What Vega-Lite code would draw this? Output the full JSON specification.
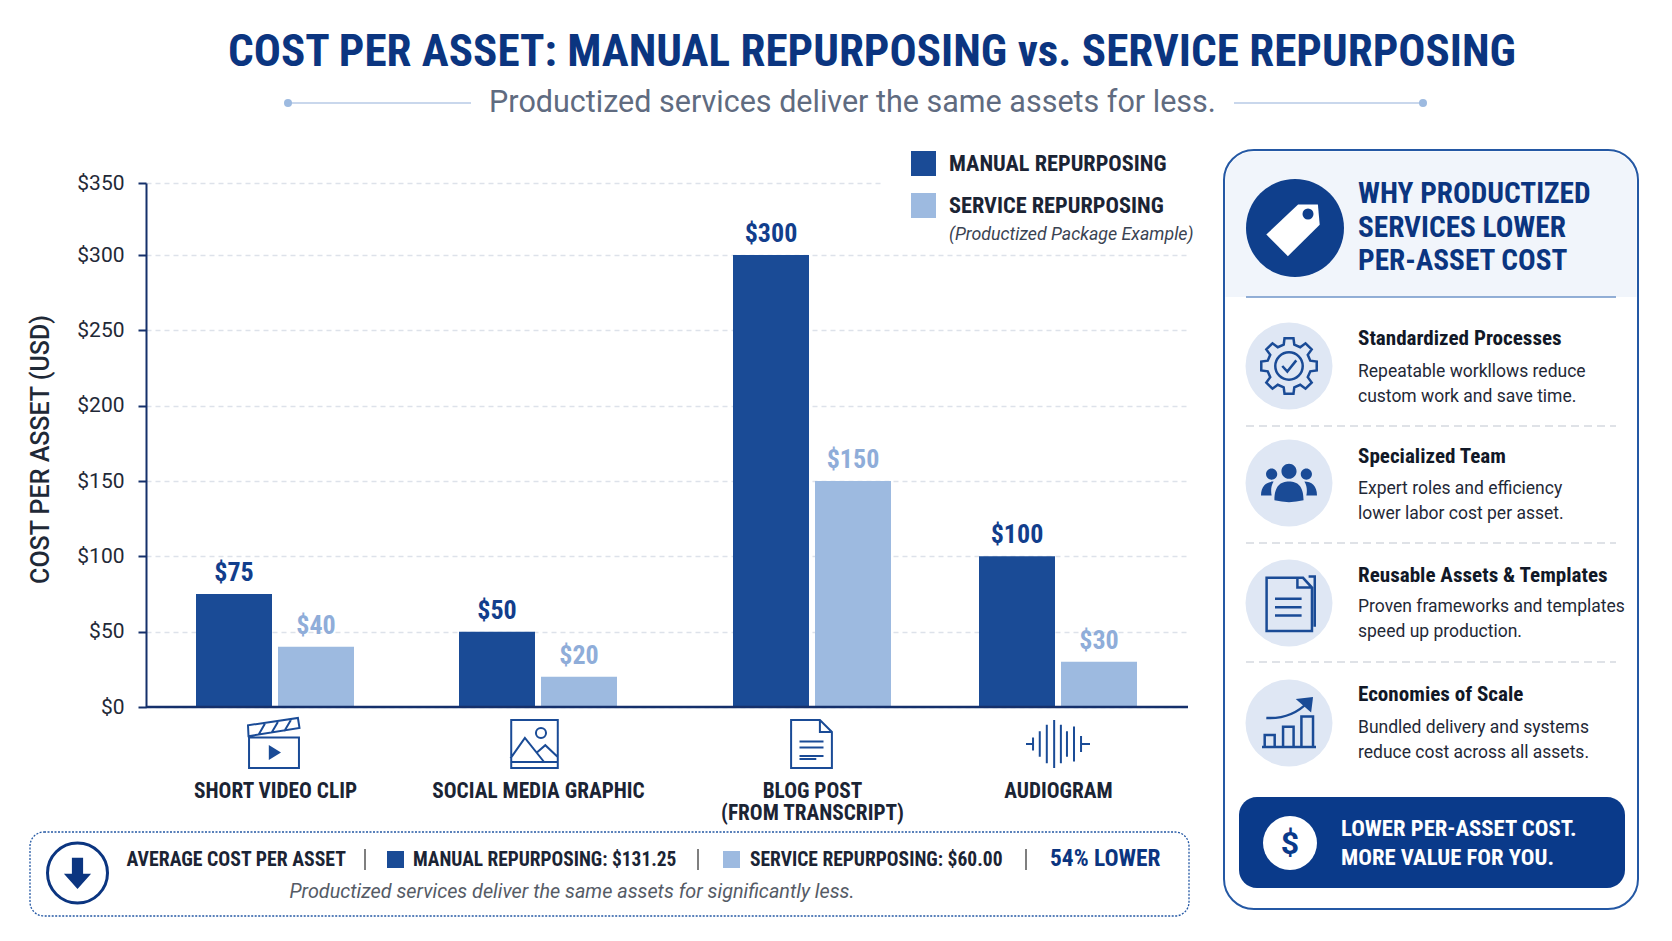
{"$schema":"https://vega.github.io/schema/vega-lite/v6.json","width":1042,"height":524,"autosize":"none","padding":{"left":146,"top":183,"right":484,"bottom":234},"background":"#ffffff","datasets":{"one":[{}],"bars":[{"asset":"SHORT VIDEO CLIP","order":1,"series":"MANUAL REPURPOSING","cost":75},{"asset":"SHORT VIDEO CLIP","order":1,"series":"SERVICE REPURPOSING","cost":40},{"asset":"SOCIAL MEDIA GRAPHIC","order":2,"series":"MANUAL REPURPOSING","cost":50},{"asset":"SOCIAL MEDIA GRAPHIC","order":2,"series":"SERVICE REPURPOSING","cost":20},{"asset":"BLOG POST (FROM TRANSCRIPT)","order":3,"series":"MANUAL REPURPOSING","cost":300},{"asset":"BLOG POST (FROM TRANSCRIPT)","order":3,"series":"SERVICE REPURPOSING","cost":150},{"asset":"AUDIOGRAM","order":4,"series":"MANUAL REPURPOSING","cost":100},{"asset":"AUDIOGRAM","order":4,"series":"SERVICE REPURPOSING","cost":30}]},"config":{"view":{"stroke":null},"text":{"font":"Roboto Condensed","align":"left","baseline":"alphabetic"}},"layer":[
{"data":{"name":"bars"},"transform":[{"filter":"datum.series === 'MANUAL REPURPOSING'"}],"mark":{"type":"bar","orient":"vertical","width":76,"xOffset":-41},"encoding":{"x":{"field":"order","type":"quantitative","scale":{"domain":[0,1,2,3,4,5],"range":[0,129,392,666,912,1042],"nice":false,"zero":false},"axis":{"title":null,"domain":false,"ticks":false,"grid":false,"values":[1,2,3,4],"labelAngle":0,"labelPadding":73,"labelFont":"Roboto Condensed","labelFontWeight":"bold","labelFontSize":21.3,"labelColor":"#1b2434","labelLimit":0,"labelOverlap":false,"labelLineHeight":22,"labelExpr":"[null,'SHORT VIDEO CLIP','SOCIAL MEDIA GRAPHIC',['BLOG POST','(FROM TRANSCRIPT)'],'AUDIOGRAM'][datum.value]"}},"y":{"field":"cost","type":"quantitative","scale":{"domain":[0,300,350],"range":[524,72,0],"nice":false},"axis":{"title":"COST PER ASSET (USD)","titleFont":"Roboto","titleFontWeight":500,"titleFontSize":25,"titleColor":"#1f2937","titleX":-93,"titleY":266,"values":[0,50,100,150,200,250,300,350],"format":"$d","labelFont":"Roboto","labelFontSize":21,"labelColor":"#1f2937","labelPadding":14,"tickColor":"#15306b","tickSize":8,"tickWidth":2,"domainColor":"#15306b","domainWidth":2,"grid":true,"gridColor":"#dde2ea","gridDash":[5,4],"gridWidth":1.5}},"color":{"field":"series","type":"nominal","sort":null,"scale":{"domain":["MANUAL REPURPOSING","SERVICE REPURPOSING"],"range":["#1a4b96","#9dbae0"]},"legend":{"title":null,"orient":"none","legendX":765,"legendY":-32,"symbolType":"square","symbolSize":625,"symbolStrokeWidth":0,"symbolOpacity":1,"rowPadding":17,"labelOffset":13,"labelFont":"Roboto Condensed","labelFontWeight":"bold","labelFontSize":22.3,"labelColor":"#1b2434","labelLimit":0}}}},
{"data":{"name":"bars"},"transform":[{"filter":"datum.series === 'SERVICE REPURPOSING'"}],"mark":{"type":"bar","orient":"vertical","width":76,"xOffset":41},"encoding":{"x":{"field":"order","type":"quantitative"},"y":{"field":"cost","type":"quantitative"},"color":{"field":"series","type":"nominal","sort":null}}},
{"data":{"name":"bars"},"transform":[{"filter":"datum.series === 'MANUAL REPURPOSING'"}],"mark":{"type":"text","align":"center","dx":-41,"dy":-13,"fontSize":26,"fontWeight":"bold","color":"#123e8c"},"encoding":{"x":{"field":"order","type":"quantitative"},"y":{"field":"cost","type":"quantitative"},"text":{"field":"cost","type":"quantitative","format":"$d"}}},
{"data":{"name":"bars"},"transform":[{"filter":"datum.series === 'SERVICE REPURPOSING'"}],"mark":{"type":"text","align":"center","dx":41,"dy":-13,"fontSize":26,"fontWeight":"bold","color":"#8fadd9"},"encoding":{"x":{"field":"order","type":"quantitative"},"y":{"field":"cost","type":"quantitative"},"text":{"field":"cost","type":"quantitative","format":"$d"}}},
{"data":{"name":"one"},"mark":{"type":"rule","color":"#15306b","strokeWidth":2.5},"encoding":{"y":{"datum":0}}},
{"data":{"name":"one"},"mark":{"type":"rect","x":737,"x2":1042,"y":-7,"y2":7,"fill":"#ffffff"}},
{"data":{"name":"one"},"mark":{"type":"text","text":"COST PER ASSET: MANUAL REPURPOSING vs. SERVICE REPURPOSING","x":726,"y":-117,"align":"center","fontSize":45.1,"fontWeight":"bold","color":"#0b3580"}},
{"data":{"name":"one"},"mark":{"type":"text","text":"Productized services deliver the same assets for less.","x":706.5,"y":-71,"align":"center","font":"Roboto","fontSize":30.5,"color":"#5f6b80"}},
{"data":{"name":"one"},"mark":{"type":"rule","color":"#c9d7ec","strokeWidth":2},"encoding":{"x":{"value":142},"x2":{"value":325},"y":{"value":-80}}},
{"data":{"name":"one"},"mark":{"type":"rule","color":"#c9d7ec","strokeWidth":2},"encoding":{"x":{"value":1088},"x2":{"value":1277},"y":{"value":-80}}},
{"data":{"name":"one"},"mark":{"type":"point","shape":"circle","x":142,"y":-80,"size":64,"filled":true,"color":"#9dbae0","opacity":1}},
{"data":{"name":"one"},"mark":{"type":"point","shape":"circle","x":1277,"y":-80,"size":64,"filled":true,"color":"#9dbae0","opacity":1}},
{"data":{"name":"one"},"mark":{"type":"text","text":"(Productized Package Example)","x":803,"y":57,"font":"Roboto","fontStyle":"italic","fontSize":17.8,"color":"#3a4352"}},
{"data":{"name":"one"},"mark":{"type":"point","shape":"M-.96 -.25H.96V.92H-.96ZM-.98 -.3L-1 -.72L.92 -1L.98 -.62ZM-.6 -.35L-.35 -.78M-.1 -.42L.15 -.85M.4 -.5L.65 -.92","x":128,"y":561,"size":2704,"filled":false,"stroke":"#1a4b96","strokeWidth":2,"opacity":1}},
{"data":{"name":"one"},"mark":{"type":"point","shape":"M-.2 .04L.27 .33L-.2 .62Z","x":128,"y":561,"size":2704,"filled":true,"color":"#1a4b96","opacity":1}},
{"data":{"name":"one"},"mark":{"type":"point","shape":"M-.97 -1H.97V1H-.97ZM-1 .6L-.4 -.25L.4 .75M.1 .35L.45 .05L.98 .55M-.97 .75H.97M.48 -.46A.21 .21 0 1 1 .06 -.46A.21 .21 0 1 1 .48 -.46Z","x":388.5,"y":561,"size":2304,"filled":false,"stroke":"#1a4b96","strokeWidth":2,"opacity":1}},
{"data":{"name":"one"},"mark":{"type":"point","shape":"M-.85 -1H.35L.85 -.5V1H-.85ZM.35 -1V-.5H.85M-.5 -.1H.5M-.5 .15H.5M-.5 .5H.5M-.5 .62H.2","x":665.5,"y":561,"size":2304,"filled":false,"stroke":"#1a4b96","strokeWidth":2,"opacity":1}},
{"data":{"name":"one"},"mark":{"type":"point","shape":"M-1 0H-.8M-.78 -.2V.2M-.57 -.4V.4M-.35 -.6V.6M-.12 -.75V.75M.09 -.6V.6M.28 -.4V.4M.5 -.55V.55M.72 -.25V.25M.72 0H1","x":912,"y":561,"size":4096,"filled":false,"stroke":"#1a4b96","strokeWidth":2,"opacity":1}},
{"data":{"name":"one"},"mark":{"type":"rect","x":-116,"x2":1043,"y":649,"y2":733,"cornerRadius":14,"fill":"#ffffff","stroke":"#2458a4","strokeWidth":1.3,"strokeDash":[2,1.5]}},
{"data":{"name":"one"},"mark":{"type":"point","shape":"circle","x":-68.5,"y":690,"size":3600,"filled":false,"stroke":"#0b3580","strokeWidth":3,"opacity":1}},
{"data":{"name":"one"},"mark":{"type":"point","shape":"M-.35 -.95H.35V.05H.85L0 1L-.85 .05H-.35Z","x":-68.5,"y":690,"size":1024,"filled":true,"color":"#0b3580","opacity":1}},
{"data":{"name":"one"},"mark":{"type":"text","text":"AVERAGE COST PER ASSET","x":-19.5,"y":683,"fontSize":19.8,"fontWeight":"bold","color":"#1b2434"}},
{"data":{"name":"one"},"mark":{"type":"rule","color":"#555555","strokeWidth":1.5},"encoding":{"x":{"value":219},"y":{"value":666},"y2":{"value":687}}},
{"data":{"name":"one"},"mark":{"type":"rect","x":241,"x2":258,"y":668,"y2":685,"fill":"#1a4b96"}},
{"data":{"name":"one"},"mark":{"type":"text","text":"MANUAL REPURPOSING: $131.25","x":267,"y":683,"fontSize":19.4,"fontWeight":"bold","color":"#1b2434"}},
{"data":{"name":"one"},"mark":{"type":"rule","color":"#555555","strokeWidth":1.5},"encoding":{"x":{"value":552},"y":{"value":666},"y2":{"value":687}}},
{"data":{"name":"one"},"mark":{"type":"rect","x":577,"x2":594,"y":668,"y2":685,"fill":"#9dbae0"}},
{"data":{"name":"one"},"mark":{"type":"text","text":"SERVICE REPURPOSING: $60.00","x":604,"y":683,"fontSize":19.5,"fontWeight":"bold","color":"#1b2434"}},
{"data":{"name":"one"},"mark":{"type":"rule","color":"#555555","strokeWidth":1.5},"encoding":{"x":{"value":880},"y":{"value":666},"y2":{"value":687}}},
{"data":{"name":"one"},"mark":{"type":"text","text":"54% LOWER","x":904,"y":683,"fontSize":23.4,"fontWeight":"bold","color":"#0b3580"}},
{"data":{"name":"one"},"mark":{"type":"text","text":"Productized services deliver the same assets for significantly less.","x":426,"y":715,"align":"center","font":"Roboto","fontStyle":"italic","fontSize":19.8,"color":"#555b66"}},
{"data":{"name":"one"},"mark":{"type":"rect","x":1078,"x2":1492,"y":-33,"y2":726,"cornerRadius":30,"fill":"#ffffff","stroke":"#2458a4","strokeWidth":2}},
{"data":{"name":"one"},"mark":{"type":"rect","x":1079.5,"x2":1490.5,"y":-31.5,"y2":114,"cornerRadiusTopLeft":29,"cornerRadiusTopRight":29,"fill":"#f1f5fb"}},
{"data":{"name":"one"},"mark":{"type":"rule","color":"#6f94c8","strokeWidth":1.5},"encoding":{"x":{"value":1100},"x2":{"value":1470},"y":{"value":114}}},
{"data":{"name":"one"},"mark":{"type":"point","shape":"circle","x":1149,"y":45,"size":9604,"filled":true,"color":"#0f3f8c","opacity":1}},
{"data":{"name":"one"},"mark":{"type":"point","shape":"M-.89 .22L.17 -.78L.83 -.78L.89 -.11L-.17 .94Z","x":1147,"y":45,"size":3600,"filled":true,"color":"#ffffff","opacity":1}},
{"data":{"name":"one"},"mark":{"type":"point","shape":"circle","x":1162,"y":31,"size":121,"filled":true,"color":"#0f3f8c","opacity":1}},
{"data":{"name":"one"},"mark":{"type":"text","text":"WHY PRODUCTIZED","x":1212,"y":20,"fontSize":29.3,"fontWeight":"bold","color":"#0b3580"}},
{"data":{"name":"one"},"mark":{"type":"text","text":"SERVICES LOWER","x":1212,"y":54,"fontSize":29.3,"fontWeight":"bold","color":"#0b3580"}},
{"data":{"name":"one"},"mark":{"type":"text","text":"PER-ASSET COST","x":1212,"y":87,"fontSize":29.3,"fontWeight":"bold","color":"#0b3580"}},
{"data":{"name":"one"},"mark":{"type":"point","shape":"circle","x":1143,"y":183,"size":7569,"filled":true,"color":"#dfe7f4","opacity":1}},
{"data":{"name":"one"},"mark":{"type":"point","shape":"circle","x":1143,"y":300,"size":7569,"filled":true,"color":"#dfe7f4","opacity":1}},
{"data":{"name":"one"},"mark":{"type":"point","shape":"circle","x":1143,"y":420,"size":7569,"filled":true,"color":"#dfe7f4","opacity":1}},
{"data":{"name":"one"},"mark":{"type":"point","shape":"circle","x":1143,"y":540,"size":7569,"filled":true,"color":"#dfe7f4","opacity":1}},
{"data":{"name":"one"},"mark":{"type":"point","shape":"M-.19 -.76L-.16 -.99L.16 -.99L.19 -.76L.4 -.67L.59 -.81L.81 -.59L.67 -.4L.76 -.19L.99 -.16L.99 .16L.76 .19L.67 .4L.81 .59L.59 .81L.4 .67L.19 .76L.16 .99L-.16 .99L-.19 .76L-.4 .67L-.59 .81L-.81 .59L-.67 .4L-.76 .19L-.99 .16L-.99 -.16L-.76 -.19L-.67 -.4L-.81 -.59L-.59 -.81L-.4 -.67ZM.49 0A.49 .49 0 1 1 -.49 0A.49 .49 0 1 1 .49 0ZM-.24 0L-.06 .2L.26 -.2","x":1143,"y":183,"size":3136,"filled":false,"stroke":"#1a4b96","strokeWidth":2.5,"opacity":1}},
{"data":{"name":"one"},"mark":{"type":"point","shape":"M.27 -.42A.27 .27 0 1 1 -.27 -.42A.27 .27 0 1 1 .27 -.42ZM-.52 .62C-.52 .1 -.3 -.05 0 -.05C.3 -.05 .52 .1 .52 .62Q0 .75 -.52 .62ZM-.42 -.32A.2 .2 0 1 1 -.82 -.32A.2 .2 0 1 1 -.42 -.32ZM-1 .45C-1 .1 -.8 -.05 -.55 -.05C-.65 .1 -.65 .3 -.62 .45ZM.82 -.32A.2 .2 0 1 1 .42 -.32A.2 .2 0 1 1 .82 -.32ZM1 .45C1 .1 .8 -.05 .55 -.05C.65 .1 .65 .3 .62 .45Z","x":1143,"y":300,"size":3136,"filled":true,"color":"#1a4b96","opacity":1}},
{"data":{"name":"one"},"mark":{"type":"point","shape":"M-.8 -.9H.5L.82 -.55V1H-.8ZM.3 -.9V-.55H.82M-.5 -.15H.45M-.5 .15H.45M-.5 .45H.45M.7 -.95H.92V.85","x":1143,"y":420,"size":3136,"filled":false,"stroke":"#1a4b96","strokeWidth":2.5,"opacity":1}},
{"data":{"name":"one"},"mark":{"type":"point","shape":"M-1 .93H1M-.9 .93V.48H-.53V.93M-.22 .93V.18H.17V.93M.46 .93V-.2H.89V.93M-.84 -.15Q.1 -.1 .72 -.75","x":1143,"y":539,"size":2916,"filled":false,"stroke":"#1a4b96","strokeWidth":2.5,"opacity":1}},
{"data":{"name":"one"},"mark":{"type":"point","shape":"M.25 -.85L.89 -.93L.82 -.35Z","x":1143,"y":539,"size":2916,"filled":true,"color":"#1a4b96","opacity":1}},
{"data":{"name":"one"},"mark":{"type":"rule","color":"#d5d9e0","strokeWidth":1.3,"strokeDash":[8,5]},"encoding":{"x":{"value":1100},"x2":{"value":1470},"y":{"value":243}}},
{"data":{"name":"one"},"mark":{"type":"rule","color":"#d5d9e0","strokeWidth":1.3,"strokeDash":[8,5]},"encoding":{"x":{"value":1100},"x2":{"value":1470},"y":{"value":360}}},
{"data":{"name":"one"},"mark":{"type":"rule","color":"#d5d9e0","strokeWidth":1.3,"strokeDash":[8,5]},"encoding":{"x":{"value":1100},"x2":{"value":1470},"y":{"value":479}}},
{"data":{"name":"one"},"mark":{"type":"text","text":"Standardized Processes","x":1212,"y":162,"fontSize":21.1,"fontWeight":"bold","color":"#111827"}},
{"data":{"name":"one"},"mark":{"type":"text","text":"Repeatable workllows reduce","x":1212,"y":194,"font":"Roboto","fontSize":17.5,"color":"#1f2937"}},
{"data":{"name":"one"},"mark":{"type":"text","text":"custom work and save time.","x":1212,"y":219,"font":"Roboto","fontSize":17.5,"color":"#1f2937"}},
{"data":{"name":"one"},"mark":{"type":"text","text":"Specialized Team","x":1212,"y":280,"fontSize":21.1,"fontWeight":"bold","color":"#111827"}},
{"data":{"name":"one"},"mark":{"type":"text","text":"Expert roles and efficiency","x":1212,"y":311,"font":"Roboto","fontSize":17.5,"color":"#1f2937"}},
{"data":{"name":"one"},"mark":{"type":"text","text":"lower labor cost per asset.","x":1212,"y":336,"font":"Roboto","fontSize":17.5,"color":"#1f2937"}},
{"data":{"name":"one"},"mark":{"type":"text","text":"Reusable Assets & Templates","x":1212,"y":399,"fontSize":21.1,"fontWeight":"bold","color":"#111827"}},
{"data":{"name":"one"},"mark":{"type":"text","text":"Proven frameworks and templates","x":1212,"y":429,"font":"Roboto","fontSize":17.5,"color":"#1f2937"}},
{"data":{"name":"one"},"mark":{"type":"text","text":"speed up production.","x":1212,"y":454,"font":"Roboto","fontSize":17.5,"color":"#1f2937"}},
{"data":{"name":"one"},"mark":{"type":"text","text":"Economies of Scale","x":1212,"y":518,"fontSize":21.1,"fontWeight":"bold","color":"#111827"}},
{"data":{"name":"one"},"mark":{"type":"text","text":"Bundled delivery and systems","x":1212,"y":550,"font":"Roboto","fontSize":17.5,"color":"#1f2937"}},
{"data":{"name":"one"},"mark":{"type":"text","text":"reduce cost across all assets.","x":1212,"y":575,"font":"Roboto","fontSize":17.5,"color":"#1f2937"}},
{"data":{"name":"one"},"mark":{"type":"rect","x":1093,"x2":1479,"y":614,"y2":705,"cornerRadius":18,"fill":"#0a3a8a"}},
{"data":{"name":"one"},"mark":{"type":"point","shape":"circle","x":1144,"y":660,"size":2916,"filled":true,"color":"#ffffff","opacity":1}},
{"data":{"name":"one"},"mark":{"type":"text","text":"$","x":1144,"y":671,"align":"center","font":"Roboto","fontSize":32,"fontWeight":"bold","color":"#0a3a8a"}},
{"data":{"name":"one"},"mark":{"type":"text","text":"LOWER PER-ASSET COST.","x":1195,"y":653,"fontSize":22.7,"fontWeight":"bold","color":"#ffffff"}},
{"data":{"name":"one"},"mark":{"type":"text","text":"MORE VALUE FOR YOU.","x":1195,"y":682,"fontSize":22.7,"fontWeight":"bold","color":"#ffffff"}}
]}
